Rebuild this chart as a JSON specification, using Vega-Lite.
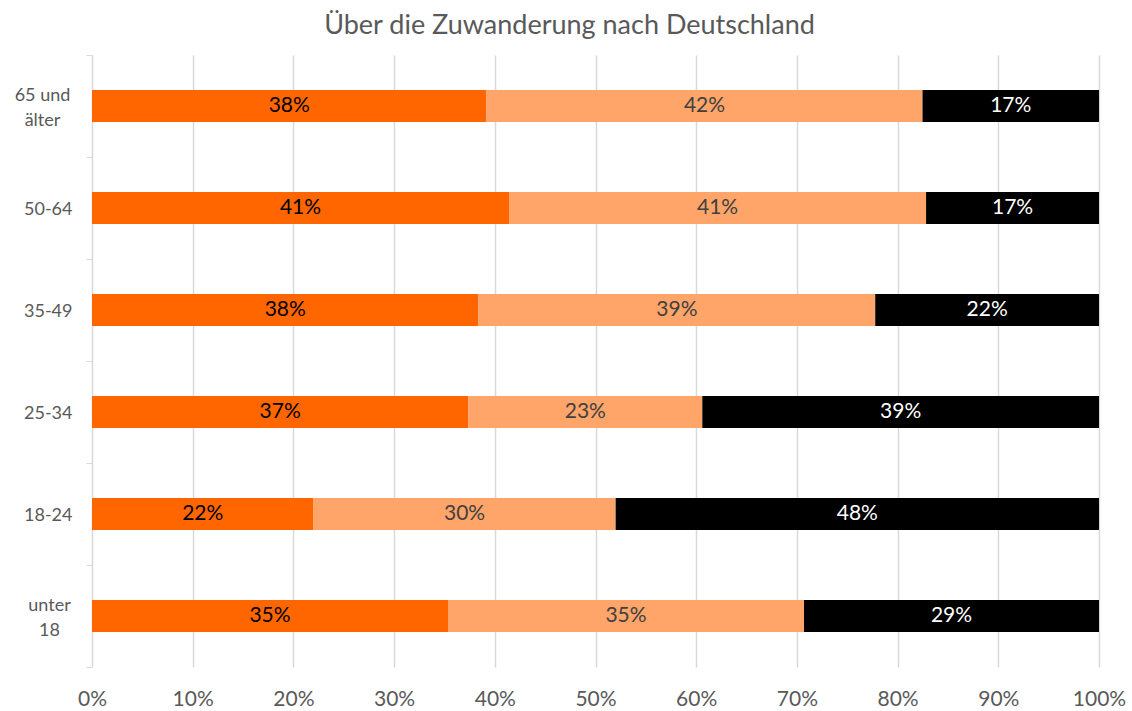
{
  "$schema": "https://vega.github.io/schema/vega-lite/v6.json",
  "width": 1007,
  "height": 612,
  "autosize": {"type": "none"},
  "padding": {"left": 92, "top": 55, "right": 33, "bottom": 44},
  "background": "white",
  "title": {
    "text": "Über die Zuwanderung nach Deutschland",
    "font": "Lato",
    "fontSize": 27,
    "fontWeight": "normal",
    "color": "#595959",
    "offset": 6,
    "dx": -26
  },
  "config": {
    "view": {"stroke": null},
    "font": "Lato"
  },
  "data": {
    "values": [
      {"g": "65 und älter", "s": "positiv", "o": 1, "p": 0.38},
      {"g": "65 und älter", "s": "neutral", "o": 2, "p": 0.42},
      {"g": "65 und älter", "s": "negativ", "o": 3, "p": 0.17},
      {"g": "50-64", "s": "positiv", "o": 1, "p": 0.41},
      {"g": "50-64", "s": "neutral", "o": 2, "p": 0.41},
      {"g": "50-64", "s": "negativ", "o": 3, "p": 0.17},
      {"g": "35-49", "s": "positiv", "o": 1, "p": 0.38},
      {"g": "35-49", "s": "neutral", "o": 2, "p": 0.39},
      {"g": "35-49", "s": "negativ", "o": 3, "p": 0.22},
      {"g": "25-34", "s": "positiv", "o": 1, "p": 0.37},
      {"g": "25-34", "s": "neutral", "o": 2, "p": 0.23},
      {"g": "25-34", "s": "negativ", "o": 3, "p": 0.39},
      {"g": "18-24", "s": "positiv", "o": 1, "p": 0.22},
      {"g": "18-24", "s": "neutral", "o": 2, "p": 0.30},
      {"g": "18-24", "s": "negativ", "o": 3, "p": 0.48},
      {"g": "unter 18", "s": "positiv", "o": 1, "p": 0.35},
      {"g": "unter 18", "s": "neutral", "o": 2, "p": 0.35},
      {"g": "unter 18", "s": "negativ", "o": 3, "p": 0.29}
    ]
  },
  "encoding": {
    "y": {
      "field": "g",
      "type": "nominal",
      "sort": ["65 und älter", "50-64", "35-49", "25-34", "18-24", "unter 18"],
      "title": null,
      "scale": {"paddingInner": 0, "paddingOuter": 0},
      "axis": {
        "tickBand": "extent",
        "domainColor": "#d9d9d9",
        "tickColor": "#d9d9d9",
        "tickSize": 6,
        "labelAlign": {"condition": {"test": "datum.value == '65 und älter' || datum.value == 'unter 18'", "value": "center"}, "value": "right"},
        "labelPadding": {"condition": [
          {"test": "datum.value == '65 und älter'", "value": 44},
          {"test": "datum.value == 'unter 18'", "value": 37}
        ], "value": 14},
        "labelOffset": {"condition": {"test": "datum.value == '65 und älter' || datum.value == 'unter 18'", "value": -11}, "value": 1},
        "labelFont": "Lato",
        "labelFontSize": 18,
        "labelColor": "#595959",
        "labelLineHeight": 25,
        "labelExpr": "datum.label == '65 und älter' ? ['65 und', 'älter'] : datum.label == 'unter 18' ? ['unter', '18'] : datum.label",
        "grid": false
      }
    },
    "x": {
      "field": "p",
      "type": "quantitative",
      "stack": "normalize",
      "title": null,
      "scale": {"domain": [0, 1]},
      "axis": {
        "format": ".0%",
        "values": [0, 0.1, 0.2, 0.3, 0.4, 0.5, 0.6, 0.7, 0.8, 0.9, 1],
        "domain": false,
        "ticks": false,
        "grid": true,
        "gridColor": "#d9d9d9",
        "gridWidth": 1.5,
        "labelFlush": false,
        "labelPadding": 21,
        "labelFont": "Lato",
        "labelFontSize": 21,
        "labelColor": "#595959"
      }
    },
    "order": {"field": "o", "type": "quantitative"}
  },
  "layer": [
    {
      "mark": {"type": "bar", "size": 32},
      "encoding": {
        "color": {
          "field": "s",
          "type": "nominal",
          "scale": {"domain": ["positiv", "neutral", "negativ"], "range": ["#ff6600", "#ffa569", "#000000"]},
          "legend": null
        }
      }
    },
    {
      "mark": {"type": "text", "font": "Lato", "fontSize": 21, "baseline": "middle", "align": "center"},
      "encoding": {
        "x": {"field": "p", "type": "quantitative", "stack": "normalize", "bandPosition": 0.5},
        "text": {"field": "p", "type": "quantitative", "format": ".0%"},
        "color": {
          "condition": [
            {"test": "datum.s == 'negativ'", "value": "#ffffff"},
            {"test": "datum.s == 'positiv'", "value": "#000000"}
          ],
          "value": "#404040"
        }
      }
    }
  ]
}
